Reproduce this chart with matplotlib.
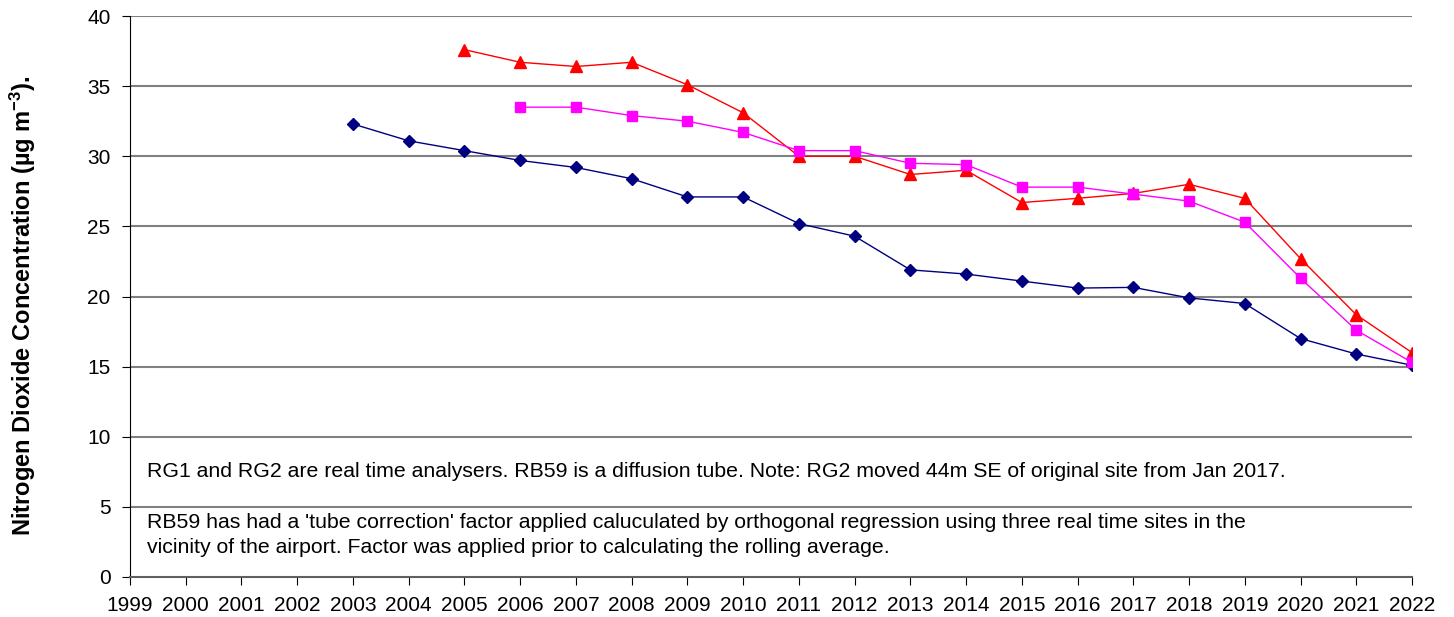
import matplotlib
matplotlib.use("Agg")
import matplotlib.pyplot as plt

plt.rcParams['font.family'] = ['Liberation Sans', 'DejaVu Sans']
plt.rcParams['mathtext.default'] = 'regular'

# ------------------------------
# Data (annual rolling averages)
# ------------------------------
years_rg1 = list(range(2003, 2023))
rg1 = [32.3, 31.1, 30.4, 29.7, 29.2, 28.4, 27.1, 27.1, 25.2, 24.3,
       21.9, 21.6, 21.1, 20.6, 20.65, 19.9, 19.5, 17.0, 15.9, 15.1]

years_rg2 = list(range(2005, 2023))
rg2 = [37.6, 36.7, 36.4, 36.7, 35.1, 33.1, 30.0, 30.0, 28.7, 29.0,
       26.7, 27.0, 27.35, 28.0, 27.0, 22.7, 18.7, 16.0]

years_rb59 = list(range(2006, 2023))
rb59 = [33.5, 33.5, 32.9, 32.5, 31.7, 30.4, 30.4, 29.5, 29.4,
        27.8, 27.8, 27.3, 26.8, 25.3, 21.3, 17.6, 15.3]

year_ticks = list(range(1999, 2023))
y_ticks = list(range(0, 45, 5))

note1 = ("RG1 and RG2 are real time analysers. RB59 is a diffusion tube. "
         "Note: RG2 moved 44m SE of original site from Jan 2017.")
note2 = ("RB59 has had a 'tube correction' factor applied caluculated by orthogonal "
         "regression using three real time sites in the\n"
         "vicinity of the airport. Factor was applied prior to calculating the rolling average.")

# ------------------------------
# Figure
# ------------------------------
fig = plt.figure(figsize=(14.54, 6.17), dpi=100)
ax = fig.add_axes([130 / 1454, 40 / 617, 1282 / 1454, 561 / 617])

ax.plot(years_rg1, rg1, color='#000080', marker='D', markersize=6, linewidth=1)
ax.plot(years_rg2, rg2, color='#FF0000', marker='^', markersize=8, linewidth=1)
ax.plot(years_rb59, rb59, color='#FF00FF', marker='s', markersize=7.5, linewidth=1)

ax.set_xlim(1999, 2022)
ax.set_ylim(0, 40)
ax.set_xticks(year_ticks)
ax.set_yticks(y_ticks)
ax.tick_params(axis='both', labelsize=15, direction='out', length=6, color='black')
ax.tick_params(axis='x', pad=8)
ax.tick_params(axis='y', pad=8)

for y in y_ticks[1:]:
    ax.axhline(y, color='#808080', linewidth=1.5, zorder=0)

for side in ['top', 'right']:
    ax.spines[side].set_visible(False)
ax.spines['left'].set_color('black')
ax.spines['bottom'].set_color('#606060')
ax.spines['bottom'].set_linewidth(1.5)

ax.set_ylabel("Nitrogen Dioxide Concentration (µg m$^{-3}$).", fontsize=17,
              fontweight='bold')
ax.yaxis.set_label_coords(-0.072, 0.483)

ax.text(0.013, 0.188, note1, transform=ax.transAxes, fontsize=15.3, va='center')
ax.text(0.013, 0.075, note2, transform=ax.transAxes, fontsize=15.3, va='center',
        linespacing=1.42)

fig.savefig("out.png", dpi=100)
